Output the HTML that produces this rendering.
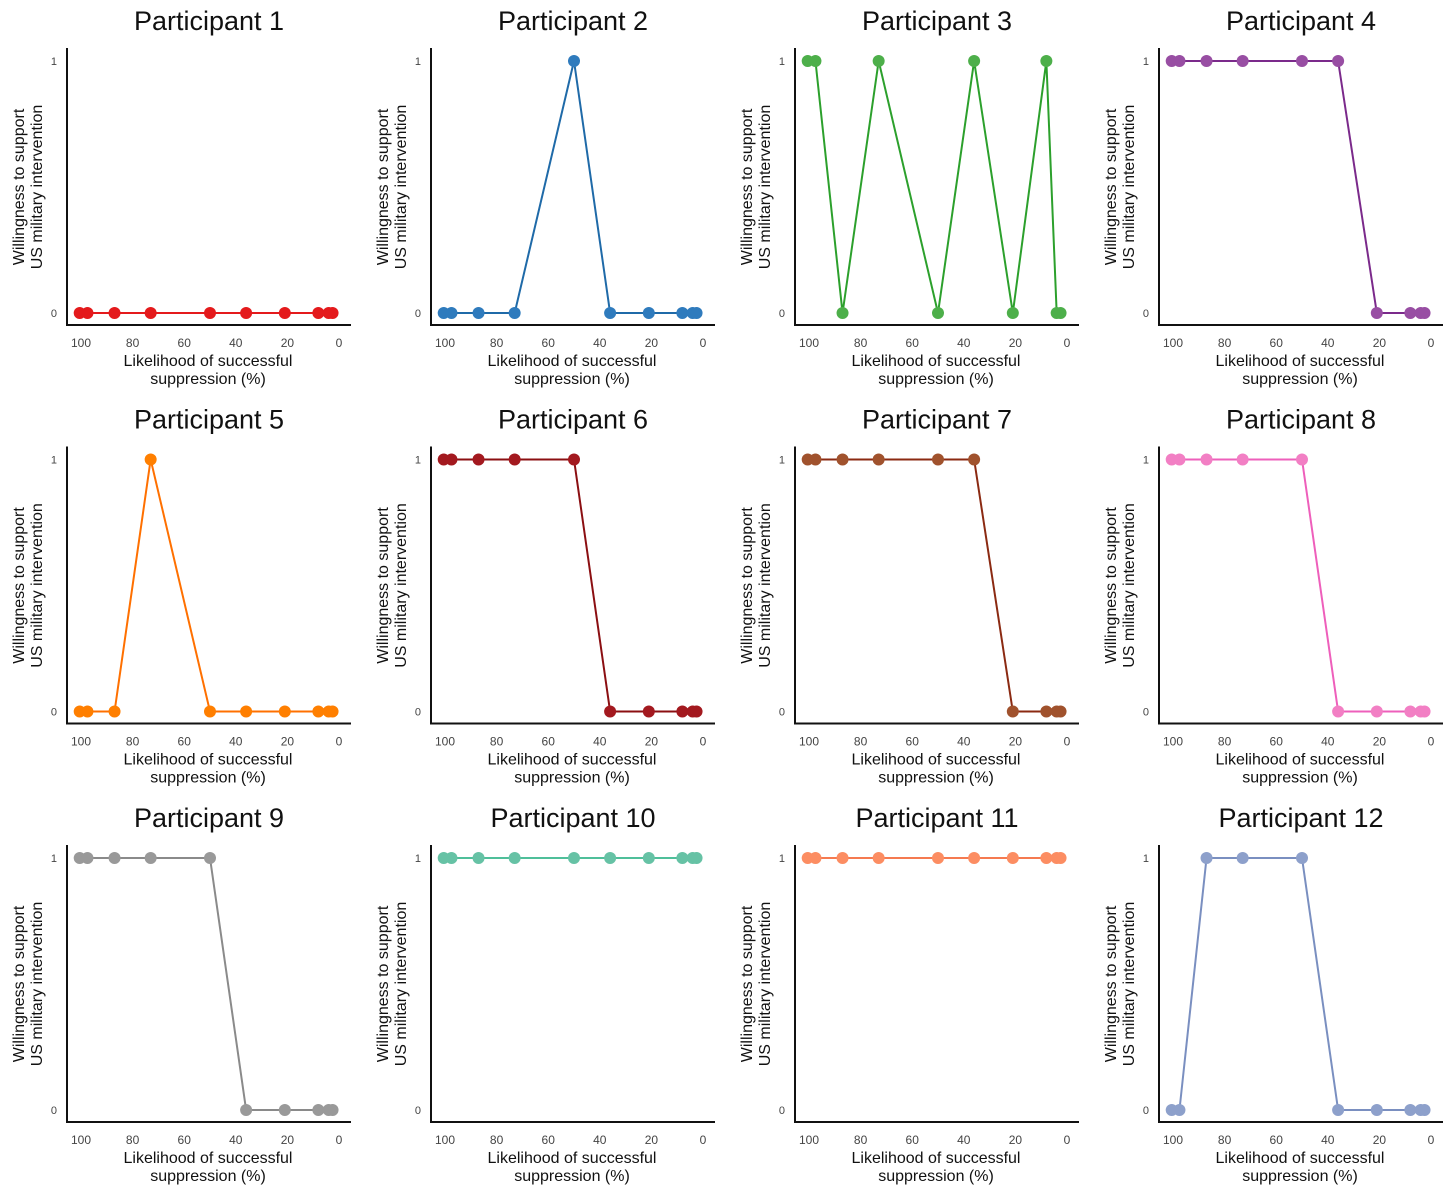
<!DOCTYPE html>
<html><head><meta charset="utf-8"><style>
html,body{margin:0;padding:0;background:#fff}
svg text{font-family:"Liberation Sans",Arial,sans-serif}
</style></head><body>
<svg id="chart" width="1456" height="1196" xmlns="http://www.w3.org/2000/svg"></svg>
<script>
const xValues = [100.5, 97.5, 87, 73, 50, 36, 21, 8, 4, 2.5];
const xTicks = [100, 80, 60, 40, 20, 0];
const yTicks = [0, 1];
const p1 = [0,0,0,0,0,0,0,0,0,0];
const p2 = [0,0,0,0,1,0,0,0,0,0];
const p3 = [1,1,0,1,0,1,0,1,0,0];
const p4 = [1,1,1,1,1,1,0,0,0,0];
const p5 = [0,0,0,1,0,0,0,0,0,0];
const p6 = [1,1,1,1,1,0,0,0,0,0];
const p7 = [1,1,1,1,1,1,0,0,0,0];
const p8 = [1,1,1,1,1,0,0,0,0,0];
const p9 = [1,1,1,1,1,0,0,0,0,0];
const p10 = [1,1,1,1,1,1,1,1,1,1];
const p11 = [1,1,1,1,1,1,1,1,1,1];
const p12 = [0,0,1,1,1,0,0,0,0,0];
const series = [p1,p2,p3,p4,p5,p6,p7,p8,p9,p10,p11,p12];
const titles = ["Participant 1","Participant 2","Participant 3","Participant 4","Participant 5","Participant 6","Participant 7","Participant 8","Participant 9","Participant 10","Participant 11","Participant 12"];
const pointColors = ["#e41a1c","#2f7bbd","#4daf4a","#984ea3","#ff7f00","#a3191f","#a0522d","#f27fc4","#999999","#66c2a5","#fc8d62","#8da0cb"];
const lineColors = ["#e41a1c","#1f6aa8","#2ca02c","#7b2a8b","#ff7000","#8b0f12","#8b2a12","#ee5fbb","#8a8a8a","#4fbf9a","#f57a50","#7a8fc0"];

const svg = document.getElementById('chart');
const NS = 'http://www.w3.org/2000/svg';
function mk(tag, attrs, parent){const e=document.createElementNS(NS,tag);for(const k in attrs)e.setAttribute(k,attrs[k]);(parent||svg).appendChild(e);return e;}

for(let i=0;i<12;i++){
  const col=i%4,row=Math.floor(i/4);
  const ax=67+col*364, oy=row*398.5;
  const top=48+oy, bottom=325+oy;
  const xs=v=>ax+14+(100-v)*2.58;
  const ys=v=>313+oy-v*252;
  const g=mk('g',{});
  
  
  const t=mk('text',{x:ax+142,y:30+oy,'font-size':27,'text-anchor':'middle',fill:'#111'},g);
  t.textContent=titles[i];
  
  
  const axes=mk('path',{d:`M${ax} ${top}V${bottom}H${ax+284}`,stroke:'#111','stroke-width':2,fill:'none'},g);
  
  
  xTicks.forEach(v=>{const tt=mk('text',{x:xs(v),y:bottom+22,'font-size':12,'text-anchor':'middle',fill:'#444'},g);tt.textContent=v;
    
    });
  yTicks.forEach(v=>{const tt=mk('text',{x:ax-10,y:ys(v)+4,'font-size':11,'text-anchor':'end',fill:'#444'},g);tt.textContent=v;
    
    });
  const xl=mk('text',{x:ax+141,'font-size':16,'text-anchor':'middle',fill:'#111'},g);
  
  
  const s1=mk('tspan',{x:ax+141,y:bottom+41},xl);s1.textContent='Likelihood of successful';
  const s2=mk('tspan',{x:ax+141,y:bottom+59},xl);s2.textContent='suppression (%)';
  const cy=187+oy;
  const yl=mk('text',{transform:`translate(${ax-43},${cy}) rotate(-90)`,'font-size':16,'text-anchor':'middle',fill:'#111'},g);
  
  
  const a1=mk('tspan',{x:0,y:0},yl);a1.textContent='Willingness to support';
  const a2=mk('tspan',{x:0,y:18},yl);a2.textContent='US military intervention';
  const d=series[i];
  const pts=xValues.map((v,j)=>xs(v)+','+ys(d[j])).join(' ');
  const ln=mk('polyline',{points:pts,fill:'none',stroke:lineColors[i],'stroke-width':2},g);
  
  
  xValues.forEach((v,j)=>{const c=mk('circle',{cx:xs(v),cy:ys(d[j]),r:6,fill:pointColors[i]},g);
    
    });
}
</script>
</body></html>
